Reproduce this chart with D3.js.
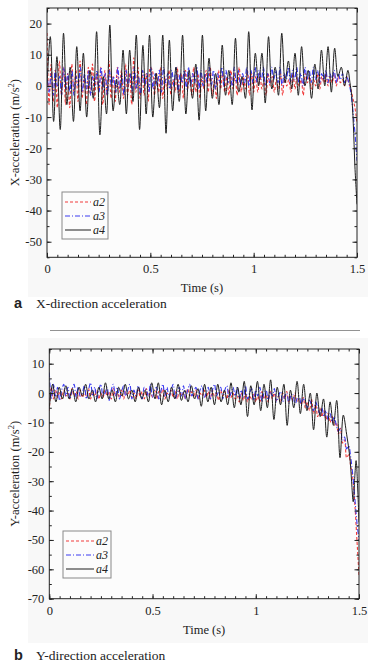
<!DOCTYPE html>
<html>
<head>
<meta charset="utf-8">
<script src="https://cdn.jsdelivr.net/npm/d3@7"></script>
<style>
  body { margin: 0; background: #fff; }
  svg text { font-family: "Liberation Serif", "Times New Roman", serif; fill: #222; }
</style>
</head>
<body>
<div class="chart"></div>
<script>
// series names and legend styles
var seriesNames = ["a2", "a3", "a4"];
var xTicks = [0, 0.5, 1, 1.5];

// ---- panel a : X-direction acceleration ----
// red / blue sampled on an even grid from 0 to 1.46 s, black from 0 to 1.456 s
var a2X = [17, -6, 7, -5, 5, -7, 8, -3, 6, -6, 4, -7, 7, -2, 5, -5, 8, -4, 3, -6, 6, -3, 7, -5, 4, -2, 6, -6, 5, -3,
  8, -4, 3, -5, 6, -2, 5, -4, 7, -3, 4, -6, 9, -2, 6, -4, 5, -3, 4, -5, 6,
  5, -3, 4, -2, 6, -4, 3, -1, 5, -3, 2, -2, 6, -3, 4, -4, 5, -1, 3, -3, 6, -2, 4, -4, 3, -1, 5, -2, 6, -3,
  2, -4, 5, -1, 4, -2, 3, -3, 5, -1, 4, -3, 6, -2, 3, -1, 5, -3, 4, -2,
  3, -2, 4, -1, 2, -3, 4, 0, 3, -2, 2, -1, 4, -3, 3, 0, 2, -2, 4, -1, 3, 0, 2, -3, 4, 1, 3, -1, 2, 0,
  4, -1, 3, 1, 4, 0, 3, 1, 4, 0, 3, 1, 2, 0, 3, 1];
var a3X = [5, -2, 4, -3, 5, 0, 3, -3, 6, -1, 4, -2, 5, -3, 3, 0, 6, -2, 4, -1, 5, -3, 3, 0, 5, -2, 6, -1, 4, -3,
  5, 0, 3, -2, 6, -1, 4, -3, 5, 0, 4, -2, 6, -1, 3, -3, 5, 0, 4, -2,
  6, -1, 4, 0, 5, -2, 6, 1, 4, -1, 5, 0, 6, -2, 4, 1, 5, -1, 6, 0, 4, 1, 6, -1, 5, 0, 4, 1, 6, 0,
  5, -1, 4, 1, 6, 0, 5, 1, 4, 0, 6, 1, 5, 0, 4, 1, 6, 0, 5, 1,
  6, 1, 5, 2, 6, 0, 4, 1, 6, 2, 5, 1, 6, 0, 4, 2, 6, 1, 5, 2, 6, 1, 4, 0, 6, 2, 5, 1, 6, 2,
  5, 1, 4, 2, 5, 1, 4, 2, 5, 1, 4, 2, 4, 1, 3, 1];
var a4X = [0, 15.8, -11.4, 9.4, -14, 16.9, -6, 6, -11.4, 12.6, -8, 10.5, -10, 5, -4, 17.4, -15.7, 3, -9, 19.5,
  -8, 2, -6, 11.5, -9, 11.5, -5, 16.3, -14, 13, -9, 16.3, -10, 4, -7, 16.3, -15.2, 14.7, -8, 6,
  -5, 16.3, -9, 5, -4, 7, -11, 16.3, -8, 8.9, -4, 4, -6, 13.1, -3, 5, -6, 15.3, -2, 3,
  -4, 17.4, -7.7, 10.5, 0, 10.5, -5.5, 15.8, -1, 6, -3, 16.9, 1, 8, -1, 10.5, -3, 12.6, 0, 5,
  -4, 7, -1, 11.5, 0, 12.6, -2, 12.1, 3, 6, 0, 5];
// steep fall at the end of the run
var tailTimeRB = [1.47, 1.48, 1.49, 1.5];
var tailTimeK = [1.466, 1.474, 1.482, 1.49, 1.5];
var a2XTail = [-1, -4, -7, -12];
var a3XTail = [-2, -8, -15, -24];
var a4XTail = [1, -3, -12, -26, -38];
var yTicksX = [20, 10, 0, -10, -20, -30, -40, -50];

// ---- panel b : Y-direction acceleration ----
var a2Y = [-6, 2, -2, 1, -1.5, 0.5, -2, 1, -1, 0, -2, 1.5, -1, 0.5, -2, 1, -1.5, 0, -1, 1.5, -2, 0.5, -1, 1, -2, 0,
  -1.5, 1, -1, 0.5, -2, 1.5, -1, 0, -1.5, 1, -2, 0.5, -1, 1, -1.5, 0, -2, 1, -1, 0.5, -2, 1.5, -1, 0, -1.5, 1,
  -2, 0.5, -1, 1.5, -2, 0, -1, 1, -1.5, 0.5, -2, 1, -1, 0, -2, 1.5, -1, 0.5, -1.5, 1, -2, 0, -1, 1, -1.5, 0.5,
  -2, 1, -1, 0, -2.5, 1, -1, 0.5, -2, 1, -1.5, 0, -2,
  -1, -3, 0, -2.5, 0.5, -3, -1, -2, 0, -3,
  -1, -3, 0.5, -2, -0.5, -3, 1, -2, 0, -2.5,
  -1, -3, 0, -2, 0.5, -3, -1, -2.5, 0, -3,
  -2, -4, -1.5, -5, -3, -6, -2, -7, -4, -8,
  -5, -8, -6, -9, -7, -10, -8, -11, -10, -14,
  -12, -17, -16, -22, -21, -25];
var a3Y = [7, -2, 3, -1, 2, -2.5, 1, 3, -1, 2, -2, 1, 3, -1.5, 2, -1, 0, 2.5, -2, 1, 3.5, -1, 2, -2, 1, 3,
  -1, 0, 2, -2.5, 1, 3, -1, 2, -2, 0.5, 2.5, -1, 1, 3, -2, 1, -1, 2.5, 0, -2, 2, 1, -1, 3, -1.5, 1,
  2, -2, 0.5, 3, -1, 2, -1.5, 1, 3, -2, 0, 2, -1, 2.5, -2, 1, 3, -1, 0.5, 2, -2, 1, 2.5, -1.5, 0, 2,
  -2, 1, 3, -1, 0.5, 2, -2, 1, 2.5, -1.5, 0, 2, -1,
  2, -2, 1, -1.5, 2.5, -2, 0, 1.5, -2.5, 1,
  -1, 2, -3, 0, 1, -2.5, 0.5, -1, 1.5, -3,
  -1, 0.5, -3, -1, 0, -3.5, -1, -0.5, -4, -2,
  -1, -4, -2, -3, -5, -2.5, -4, -6, -3, -5,
  -7, -5, -8, -6, -9, -7, -10, -8, -11, -13,
  -12, -16, -15, -19, -18, -22];
var a4Y = [-5, 3, -3, 2, -2, 2.5, -2, 1.5, -3, 2, -1, 3, -2, 1, -3, 2, -2, 3.5, -2, 1,
  -3, 2, -1, 3, -2, 1, -3, 2, -2, 1, -3, 3.5, -2, 3.5, -4, 1, -3, 2, -2, 3,
  -2.5, 1, -3, 2.5, -2, 1.5, -4.5, 3, -3, 2, -4, 3, -3, 1, -4, 3.5, -5, 2, -4, 4,
  -8, 2.5, -4, 4, -6, 3, -5, 4.5, -9, 2, -4, 3, -11, 1, -5, 4, -7, 3, -6, 0,
  -12.5, 0, -8, -2, -15, -3, -11, -2.5, -22, -7.5, -14, -22];
var tailTimeKY = [1.464, 1.472, 1.48, 1.486, 1.494, 1.5];
var a2YTail = [-29, -38, -50, -62];
var a3YTail = [-28, -36, -44, -50];
var a4YTail = [-30, -37, -28, -23, -33, -44];
var yTicksY = [10, 0, -10, -20, -30, -40, -50, -60, -70];

// declare svg
var svgWidth = 375;
var svgHeight = 667;

var svg = d3.select(".chart")
  .append("svg")
  .attr("width", svgWidth)
  .attr("height", svgHeight);

// pale figure background behind each panel
svg.append("rect").attr("x", 28).attr("y", 0).attr("width", 340).attr("height", 297).attr("fill", "#f8f8f8");
svg.append("rect").attr("x", 28).attr("y", 338).attr("width", 340).attr("height", 305).attr("fill", "#f8f8f8");

// turn a grid of samples plus tail points into [t, v] pairs
function toPoints(vals, tEnd, tailT, tailV) {
  var n = vals.length;
  var pts = vals.map((v, i) => [i * tEnd / (n - 1), v]);
  tailT.forEach((t, i) => pts.push([t, tailV[i]]));
  return pts;
}

var lineStyles = [
  { color: "#f03a3a", dash: "3,2" },
  { color: "#3a3af0", dash: "5,2,1,2" },
  { color: "#1e1e1e", dash: null }
];

function drawPanel(p) {
  var x = d3.scaleLinear().domain([0, 1.5]).range([p.left, p.right]);
  var y = d3.scaleLinear().domain(p.yDomain).range([p.bottom, p.top]);

  var g = svg.append("g");

  // plot face
  g.append("rect")
    .attr("x", p.left).attr("y", p.top)
    .attr("width", p.right - p.left).attr("height", p.bottom - p.top)
    .attr("fill", "#fcfcfc");

  // clip the curves to the frame
  var clipId = "clip-" + p.id;
  g.append("clipPath").attr("id", clipId)
    .append("rect")
    .attr("x", p.left).attr("y", p.top)
    .attr("width", p.right - p.left).attr("height", p.bottom - p.top);

  var line = d3.line()
    .x(d => x(d[0]))
    .y(d => y(d[1]))
    .curve(d3.curveCatmullRom.alpha(0.5));

  var lines = g.append("g").attr("clip-path", `url(#${clipId})`);
  p.series.forEach((pts, i) => {
    lines.append("path")
      .datum(pts)
      .attr("fill", "none")
      .attr("stroke", lineStyles[i].color)
      .attr("stroke-width", i == 2 ? 1 : 1.1)
      .attr("stroke-dasharray", lineStyles[i].dash)
      .attr("d", line);
  });

  // minor ticks
  var xMinor = d3.range(0, 1.5001, 0.05);
  var yMinor = d3.range(p.yDomain[0], p.yDomain[1] + 0.001, 5);

  g.append("g").attr("transform", `translate(0, ${p.bottom})`)
    .call(d3.axisBottom(x).tickValues(xMinor).tickSize(-2.5).tickFormat(""));
  g.append("g").attr("transform", `translate(0, ${p.top})`)
    .call(d3.axisTop(x).tickValues(xMinor).tickSize(-2.5).tickFormat(""));
  g.append("g").attr("transform", `translate(${p.left}, 0)`)
    .call(d3.axisLeft(y).tickValues(yMinor).tickSize(-2.5).tickFormat(""));
  g.append("g").attr("transform", `translate(${p.right}, 0)`)
    .call(d3.axisRight(y).tickValues(yMinor).tickSize(-2.5).tickFormat(""));

  // major ticks with labels
  var bottomAxis = g.append("g").attr("transform", `translate(0, ${p.bottom})`)
    .call(d3.axisBottom(x).tickValues(xTicks).tickSize(-4.5).tickPadding(6)
      .tickFormat(d => d3.format("")(d)));
  var leftAxis = g.append("g").attr("transform", `translate(${p.left}, 0)`)
    .call(d3.axisLeft(y).tickValues(p.yTicks).tickSize(-4.5).tickPadding(5)
      .tickFormat(d => d));
  g.append("g").attr("transform", `translate(0, ${p.top})`)
    .call(d3.axisTop(x).tickValues(xTicks).tickSize(-4.5).tickFormat(""));
  g.append("g").attr("transform", `translate(${p.right}, 0)`)
    .call(d3.axisRight(y).tickValues(p.yTicks).tickSize(-4.5).tickFormat(""));

  g.selectAll(".domain").remove();
  g.selectAll(".tick line").attr("stroke", "#222");
  bottomAxis.selectAll("text").style("font-size", "12.5px").attr("dy", "0.8em")
    .style("font-family", "Liberation Serif").attr("fill", "#222");
  leftAxis.selectAll("text").style("font-size", "12.5px")
    .style("font-family", "Liberation Serif").attr("fill", "#222");

  // frame
  g.append("rect")
    .attr("x", p.left).attr("y", p.top)
    .attr("width", p.right - p.left).attr("height", p.bottom - p.top)
    .attr("fill", "none")
    .attr("stroke", "#222")
    .attr("stroke-width", 1);

  // axis titles
  g.append("text")
    .attr("x", (p.left + p.right) / 2)
    .attr("y", p.bottom + 35)
    .attr("text-anchor", "middle")
    .style("font-size", "12.5px")
    .text("Time (s)");

  var yTitle = g.append("text")
    .attr("transform", `translate(19, ${(p.top + p.bottom) / 2}) rotate(-90)`)
    .attr("text-anchor", "middle")
    .style("font-size", "12.5px");
  yTitle.append("tspan").text(p.yLabel + " (m/s");
  yTitle.append("tspan").attr("baseline-shift", "super").style("font-size", "8.5px").text("2");
  yTitle.append("tspan").text(")");

  // legend box
  var lg = g.append("g").attr("transform", `translate(${p.legend[0]}, ${p.legend[1]})`);
  lg.append("rect")
    .attr("width", p.legend[2]).attr("height", 47)
    .attr("fill", "#fcfcfc")
    .attr("stroke", "#888")
    .attr("stroke-width", 1);
  seriesNames.forEach((name, i) => {
    var ly = 10 + i * 14;
    lg.append("line")
      .attr("x1", 3).attr("x2", p.legend[3])
      .attr("y1", ly).attr("y2", ly)
      .attr("stroke", lineStyles[i].color)
      .attr("stroke-width", 1)
      .attr("stroke-dasharray", lineStyles[i].dash);
    lg.append("text")
      .attr("x", p.legend[3] + 2)
      .attr("y", ly + 4)
      .style("font-size", "12px")
      .style("font-style", "italic")
      .text(name);
  });

  // caption
  var cap = svg.append("text")
    .attr("x", 14)
    .attr("y", p.caption);
  cap.append("tspan")
    .style("font-family", "Liberation Sans, Arial, sans-serif")
    .style("font-weight", "bold")
    .style("font-size", "14.5px")
    .text(p.letter);
  cap.append("tspan")
    .attr("x", 36)
    .style("font-size", "13.5px")
    .text(p.title);
}

drawPanel({
  id: "a",
  left: 47, right: 357, top: 8, bottom: 257.3,
  yDomain: [-55, 25],
  yTicks: yTicksX,
  yLabel: "X-acceleration",
  legend: [62, 192, 46, 29],
  caption: 308,
  letter: "a",
  title: "X-direction acceleration",
  series: [
    toPoints(a2X, 1.46, tailTimeRB, a2XTail),
    toPoints(a3X, 1.46, tailTimeRB, a3XTail),
    toPoints(a4X, 1.456, tailTimeK, a4XTail)
  ]
});

// thin separator between the two panels
svg.append("line")
  .attr("x1", 50).attr("x2", 360)
  .attr("y1", 330.5).attr("y2", 330.5)
  .attr("stroke", "#777")
  .attr("stroke-width", 0.8);

drawPanel({
  id: "b",
  left: 49.3, right: 359, top: 349, bottom: 598.7,
  yDomain: [-70, 15],
  yTicks: yTicksY,
  yLabel: "Y-acceleration",
  legend: [63, 531, 48, 31],
  caption: 660,
  letter: "b",
  title: "Y-direction acceleration",
  series: [
    toPoints(a2Y, 1.46, tailTimeRB, a2YTail),
    toPoints(a3Y, 1.46, tailTimeRB, a3YTail),
    toPoints(a4Y, 1.456, tailTimeKY, a4YTail)
  ]
});
</script>
</body>
</html>
